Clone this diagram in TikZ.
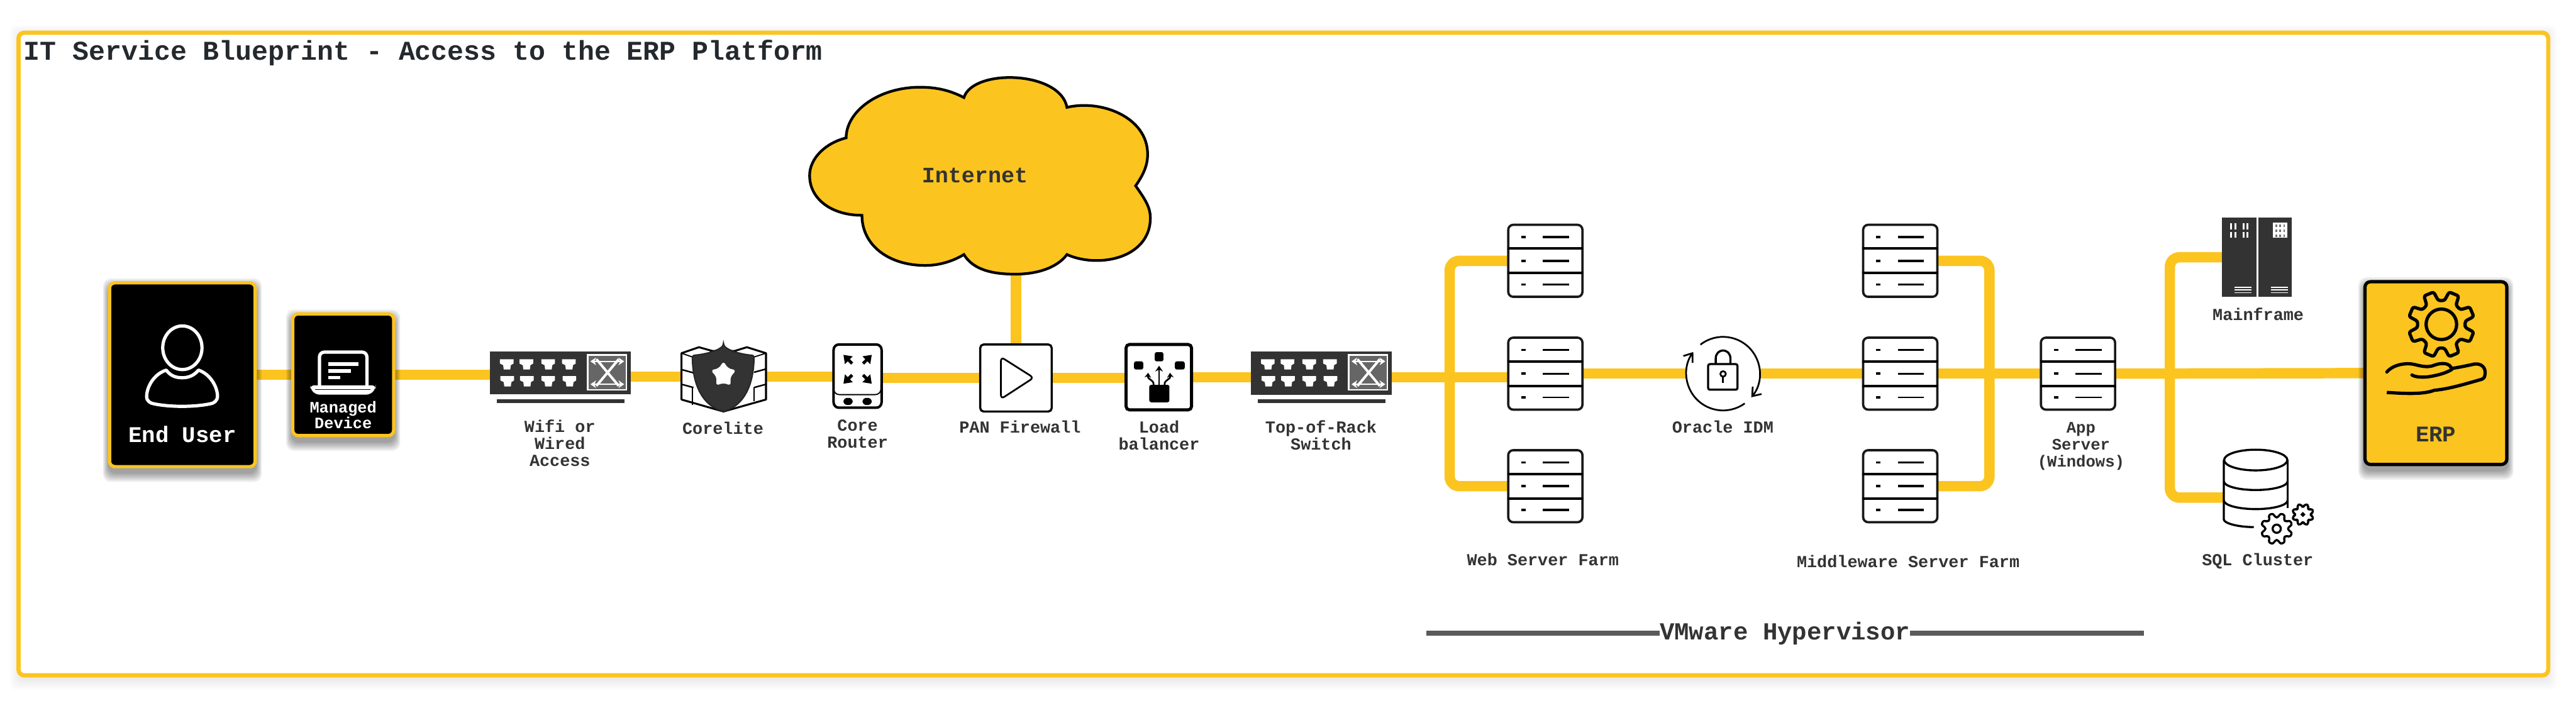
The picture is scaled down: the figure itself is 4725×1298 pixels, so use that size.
\documentclass[tikz,border=0pt]{standalone}
\usepackage{fontspec}
\setmainfont{Liberation Mono}
\usetikzlibrary{backgrounds,arrows.meta}
\definecolor{amber}{HTML}{FCC41F}
\definecolor{ink}{HTML}{333333}
\definecolor{titleink}{HTML}{24292E}
\definecolor{rulegrey}{HTML}{5A5A5A}
\definecolor{crossgrey}{HTML}{666666}
\newcommand\softshadow[4]{%
  \foreach \s in {0,3,...,15}{
    \fill[black,opacity=.07,rounded corners=4pt] ({#1-0.6*\s},{#2+10-\s}) rectangle ({#3+0.6*\s},{#4+10+\s});
  }}
\newcommand\srvdetails[4]{%
  \begin{scope}[shift={(#1.center)},line cap=butt]
    \draw[line width=1.3pt] (-69.5,-22.5) -- (69.5,-22.5);
    \draw[line width=1.3pt] (-69.5,22.5) -- (69.5,22.5);
    \draw[line width=#2] (-4.5,-43.5) -- (43.5,-43.5);
    \draw[line width=#3] (-4.5,0) -- (43.5,0);
    \draw[line width=#4] (-4.5,43.5) -- (43.5,43.5);
    \foreach \yy in {-43.5,0,43.5}{\fill (-44.5,\yy-2.2) rectangle (-36.5,\yy+2.2);}
  \end{scope}}
\newcommand\swport[2]{%
  \fill[white,shift={(#1,#2)}] (0,0) -- (25,0) -- (25,8) -- (20,11) -- (19,19) -- (7,19) -- (6,11) -- (0,8) -- cycle;}
\newcommand\swdetails[1]{%
  \begin{scope}[shift={(#1.north west)}]
    \foreach \xx in {18,54,94,132}{\swport{\xx}{14}}
    \foreach \xx in {19,55,94,133}{\swport{\xx}{45}}
    \draw[white,fill=crossgrey,line width=.8pt] (179,6) rectangle (250,70);
    \draw[white,line width=1.3pt] (195,14) -- (236,63);
    \draw[white,line width=1.3pt] (236,14) -- (195,63);
    \draw[white,line width=.7pt,{Stealth[length=3pt,width=4pt]}-{Stealth[length=3pt,width=4pt]}] (184,18) -- (246,18);
    \draw[white,line width=.7pt,{Stealth[length=3pt,width=4pt]}-{Stealth[length=3pt,width=4pt]}] (184,60) -- (246,60);
    \fill[ink] (12,87) rectangle (246,94);
  \end{scope}}
\newcommand\drawgear[6]{%
  \draw[line width=#6,line join=round,rounded corners=1pt,shift={(#1,#2)}] (7.5:#4)
    \foreach \a in {22.5,67.5,...,337.5}{ -- (\a-15:#4) -- (\a-9:#3) -- (\a+9:#3) -- (\a+15:#4)} -- cycle;
  \draw[line width=#6] (#1,#2) circle[radius=#5];}
\tikzset{
  link/.style={draw=amber,line width=5.4pt,rounded corners=5pt},
  ghost/.style={inner sep=0pt,outer sep=0pt,rectangle},
  lbl/.style={font=\fontsize{8.8}{8.8}\selectfont\bfseries,text=ink,align=center,inner sep=0pt,anchor=base},
  whitelbl/.style={lbl,text=white},
  bigwhite/.style={lbl,text=white,font=\fontsize{11.7}{11.7}\selectfont\bfseries},
  bigink/.style={lbl,font=\fontsize{11.7}{11.7}\selectfont\bfseries},
  blackcard/.style={ghost,draw=amber,fill=black,line width=1.7pt,rounded corners=2.8pt},
  serverbox/.style={ghost,draw=black!90,fill=white,line width=1.2pt,rounded corners=2.6pt,minimum width=1.36cm,minimum height=1.32cm},
  iconbox/.style={ghost,draw=black,fill=white,rounded corners=1.8pt},
  icon/.style={line width=1.7pt,draw=white,line join=round},
}
\begin{document}
\begin{tikzpicture}[x=0.01cm,y=-0.01cm]
\useasboundingbox (0,0) rectangle (4725,1298);

% --- named nodes: cards and icons -------------------------------------
\node[blackcard,minimum width=2.67cm,minimum height=3.37cm] (user) at (334.5,687.5) {};
\node[blackcard,minimum width=1.85cm,minimum height=2.23cm] (device) at (629.5,687.5) {};
\node[ghost,fill=ink,minimum width=2.58cm,minimum height=.78cm] (wifi) at (1028,684) {};
\node[ghost,minimum width=1.55cm,minimum height=1.16cm] (corelite) at (1327.5,691) {};
\node[iconbox,line width=1.3pt,rounded corners=2.8pt,minimum width=.88cm,minimum height=1.16cm] (router) at (1573,690) {};
\node[iconbox,line width=1.1pt,minimum width=1.31cm,minimum height=1.23cm] (fw) at (1863.5,693.5) {};
\node[iconbox,line width=1.6pt,minimum width=1.2cm,minimum height=1.2cm] (lb) at (2125.5,692) {};
\node[ghost,fill=ink,minimum width=2.58cm,minimum height=.79cm] (tor) at (2424,684.5) {};
\node[ghost,minimum width=6.2cm,minimum height=3.63cm] (cloud) at (1788,321.5) {};
\coordinate (webbus) at (2659,692);
\node[serverbox] (web1) at (2834.5,478.5) {};
\node[serverbox] (web2) at (2834.5,685.5) {};
\node[serverbox] (web3) at (2834.5,892) {};
\node[ghost,circle,minimum size=1.35cm] (idm) at (3160.5,685.5) {};
\node[serverbox] (mid1) at (3485.5,478.5) {};
\node[serverbox] (mid2) at (3485.5,685.5) {};
\node[serverbox] (mid3) at (3485.5,892) {};
\coordinate (midbus) at (3649,685.5);
\node[serverbox] (app) at (3811.5,685.5) {};
\coordinate (appbus) at (3980,685.5);
\node[ghost,minimum width=1.28cm,minimum height=1.46cm] (mf) at (4140,472) {};
\node[ghost,minimum width=1.17cm,minimum height=1.76cm] (sql) at (4137.5,913) {};
\node[ghost,draw=black,fill=amber,line width=1.7pt,rounded corners=2.8pt,minimum width=2.6cm,minimum height=3.35cm] (erp) at (4468,684.5) {};

% --- frame, connectors and shadows, behind everything ------------------
\begin{scope}[on background layer]
  \fill[white] (0,0) rectangle (4725,1298);
  \foreach \s in {2,5,...,20}{
    \fill[black,opacity=.012,rounded corners=3pt] (34-\s+4,60+6-\s) rectangle (4674+\s-4,1239+6+\s);
  }
  \draw[amber,fill=white,line width=2.2pt,rounded corners=3pt] (34,60) rectangle (4674,1239);
  \draw[link] (user.east) -- (device.west);
  \draw[link] (device.east) -- (device.east -| wifi.west);
  \draw[link] (wifi.east |- corelite.west) -- (corelite.west);
  \draw[link] (corelite.east) -- (corelite.east -| router.west);
  \draw[link] (router.east |- fw.west) -- (fw.west);
  \draw[link] (fw.east) -- (fw.east -| lb.west);
  \draw[link] (lb.east) -- (lb.east -| tor.west);
  \draw[link] (fw.north) -- (fw.north |- cloud.south);
  \draw[link] (tor.east |- webbus) -- (webbus) -- (webbus -| web2.west);
  \draw[link] (web1.west) -| (webbus) |- (web3.west);
  \draw[link] (web2.east) -- (idm.west);
  \draw[link] (idm.east) -- (mid2.west);
  \draw[link] (mid2.east) -- (app.west);
  \draw[link] (mid1.east) -| (midbus) |- (mid3.east);
  \draw[link] (app.east) -- (erp.west);
  \draw[link] (mf.west) -| (appbus) |- (sql.west);
  \softshadow{198}{516}{471}{859}
  \softshadow{534}{573}{725}{802}
  \softshadow{4335}{514}{4601}{855}
\end{scope}

% --- title --------------------------------------------------------------
\node[anchor=base west,inner sep=0pt,text=titleink,font=\fontsize{14.17}{14.17}\selectfont\bfseries] (title) at (43,110) {IT Service Blueprint - Access to the ERP Platform};

% --- End User -----------------------------------------------------------
\draw[icon] (user.center) ++(0,-49.5) ellipse[x radius=36,y radius=40];
\draw[icon] (305,679) .. controls (312,689) and (322,693) .. (334,693) .. controls (346,693) and (356,689) .. (364,679)
  .. controls (385,686) and (398,708) .. (399,726) .. controls (399,736) and (392,740) .. (385,741)
  .. controls (355,747) and (313,747) .. (283,741) .. controls (276,740) and (268,736) .. (269,726)
  .. controls (270,708) and (283,686) .. (305,679) -- cycle;
\node[bigwhite] (userlbl) at (334.5,811) {End User};

% --- Managed device ------------------------------------------------------
\draw[icon,line width=1.7pt,rounded corners=2.5pt] (586,710) -- (586,646) -- (673,646) -- (673,710);
\fill[white,rounded corners=2pt] (569,707) -- (689,707) -- (689,713) -- (679,724) -- (579,724) -- (569,713) -- cycle;
\draw[black,line width=.4pt] (578,715) -- (680,715);
\fill[white] (602,665) rectangle (657,671);
\fill[white] (602,677) rectangle (644,684);
\fill[white] (602,690) rectangle (624,696);
\node[whitelbl,font=\fontsize{8.3}{8.2}\selectfont\bfseries] (devlbl) at (629.5,786) {Managed\\Device};

% --- Switches ------------------------------------------------------------
\swdetails{wifi}
\swdetails{tor}
\node[lbl] (wifilbl) at (1027,855) {Wifi or\\Wired\\Access};
\node[lbl] (torlbl) at (2423,825) {Top-of-Rack\\Switch};

% --- Corelite -------------------------------------------------------------
\draw[line width=1pt,fill=white,line join=round] (1250,648) -- (1282,637) -- (1307,644) -- (1347,644) -- (1370,637) -- (1405,648) -- (1405,733) -- (1327,755) -- (1250,733) -- cycle;
\draw[line width=.6pt] (1250,648) -- (1270,655) (1405,648) -- (1383,655);
\draw[line width=.8pt] (1250,678) -- (1272,684) (1250,705) -- (1272,711) (1405,677) -- (1383,683) (1405,705) -- (1383,711);
\draw[line width=.7pt] (1270,711) -- (1270,743) (1383,711) -- (1383,736);
\draw[fill=ink,draw=black!85,line width=.7pt,rounded corners=1pt] (1327,633) .. controls (1318,643) and (1295,650) .. (1270,652) .. controls (1270,700) and (1285,742) .. (1327,755) .. controls (1368,742) and (1383,700) .. (1383,652) .. controls (1358,650) and (1336,643) .. (1327,633) -- cycle;
\fill[white,rounded corners=2pt] (1327,662) -- (1335,676) -- (1351,679) -- (1339,692) -- (1341,708) -- (1327,702) -- (1313,708) -- (1315,692) -- (1303,679) -- (1319,676) -- cycle;
\node[lbl] (corelbl) at (1326,796) {Corelite};

% --- Core router -----------------------------------------------------------
\draw[line width=.6pt,rounded corners=3pt] (1529,705) -- (1529,724) -- (1616,724) -- (1616,705);
\fill[rounded corners=2pt] (1547,730) rectangle (1564,743);
\fill[rounded corners=2pt] (1582,730) rectangle (1599,743);
\foreach \xa/\ya/\xb/\yb in {1563/667/1547/651,1583/667/1599/651,1563/688/1547/704,1583/688/1599/704}{
  \draw[line width=1.6pt,-{Stealth[length=4pt,width=5.5pt,inset=0pt]}] (\xa,\ya) -- (\xb,\yb);
}
\node[lbl] (routerlbl) at (1573,822) {Core\\Router};

% --- Firewall ---------------------------------------------------------------
\draw[line width=.9pt,rounded corners=2pt,line join=round] (1836,655) -- (1896,693) -- (1836,732) -- cycle;
\node[lbl] (fwlbl) at (1871,794) {PAN Firewall};

% --- Load balancer -----------------------------------------------------------
\fill[rounded corners=1pt] (2118,646) rectangle (2134,663);
\fill[rounded corners=1pt] (2080,663) rectangle (2097,678);
\fill[rounded corners=1pt] (2155,663) rectangle (2173,678);
\fill[rounded corners=1pt] (2108,706) rectangle (2145,738);
\draw[line width=.9pt,-{Stealth[length=3pt,width=4pt]}] (2126,706) -- (2126,671);
\draw[line width=.9pt,-{Stealth[length=2.5pt,width=3.5pt]}] (2116,706) .. controls (2116,695) and (2105,698) .. (2106,684);
\draw[line width=.9pt,-{Stealth[length=2.5pt,width=3.5pt]}] (2136,706) .. controls (2136,695) and (2147,698) .. (2146,684);
\node[lbl] (lblb) at (2126,825) {Load\\balancer};

% --- Cloud ---------------------------------------------------------------------
\draw[line width=1.4pt,fill=amber,line join=miter]
  (1768,179) .. controls (1785,125) and (1945,130) .. (1957,197)
  .. controls (2020,182) and (2105,215) .. (2105,283)
  .. controls (2105,305) and (2096,322) .. (2083,341)
  .. controls (2100,365) and (2110,380) .. (2110,400)
  .. controls (2110,450) and (2065,478) .. (2011,478)
  .. controls (1990,478) and (1970,473) .. (1957,467)
  .. controls (1940,490) and (1905,503) .. (1862,503)
  .. controls (1820,503) and (1785,495) .. (1768,467)
  .. controls (1750,478) and (1725,487) .. (1697,487)
  .. controls (1630,487) and (1581,450) .. (1581,395)
  .. controls (1525,395) and (1485,365) .. (1485,322)
  .. controls (1485,290) and (1515,262) .. (1552,253)
  .. controls (1552,205) and (1610,160) .. (1688,160)
  .. controls (1720,160) and (1745,167) .. (1768,179) -- cycle;
\node[font=\fontsize{11.5}{11.5}\selectfont\bfseries,text=ink,inner sep=0pt,anchor=base] (cloudlbl) at (1788,335) {Internet};

% --- Servers ---------------------------------------------------------------------
\srvdetails{web1}{1.3pt}{1.3pt}{1pt}
\srvdetails{web2}{.9pt}{.9pt}{.9pt}
\srvdetails{web3}{1.2pt}{1.2pt}{1.2pt}
\srvdetails{mid1}{1.3pt}{1.3pt}{1pt}
\srvdetails{mid2}{.9pt}{.9pt}{.9pt}
\srvdetails{mid3}{1.2pt}{1.2pt}{1.2pt}
\srvdetails{app}{.9pt}{.9pt}{.9pt}
\node[lbl] (weblbl) at (2830,1038) {Web Server Farm};
\node[lbl] (midlbl) at (3500,1041) {Middleware Server Farm};
\node[lbl,font=\fontsize{8.4}{8.8}\selectfont\bfseries] (applbl) at (3817,856) {App\\Server\\(Windows)};

% --- Oracle IDM ------------------------------------------------------------------
\draw[line width=.9pt,-{Straight Barb[length=4pt,width=6pt]}] ([shift={(-128:67.5)}]idm.center) arc[start angle=-128,end angle=40,radius=67.5];
\draw[line width=.9pt,-{Straight Barb[length=4pt,width=6pt]}] ([shift={(54:67.5)}]idm.center) arc[start angle=54,end angle=216,radius=67.5];
\draw[line width=1.1pt,fill=white,rounded corners=1pt] (3133,668) rectangle (3187,715);
\draw[line width=1.1pt] (3147,668) -- (3147,658) .. controls (3147,638) and (3174,638) .. (3174,658) -- (3174,668);
\draw[line width=.9pt] (3160.5,686) circle[radius=5];
\draw[line width=1pt] (3160.5,691) -- (3160.5,702);
\node[lbl] (idmlbl) at (3160,794) {Oracle IDM};

% --- Mainframe -------------------------------------------------------------------
\fill[ink] (4076,399) rectangle (4139,545);
\fill[ink] (4142,399) rectangle (4204,545);
\foreach \xx in {4090,4098,4113,4121}{
  \fill[white] (\xx,409) rectangle (\xx+3.5,421);
  \fill[white] (\xx,426) rectangle (\xx+3.5,436);
}
\fill[white] (4169,408) rectangle (4196,436);
\foreach \xx in {4174,4181,4188}{\foreach \yy in {412,421,430}{\fill[black!55] (\xx,\yy) rectangle (\xx+2.5,\yy+5);}}
\foreach \yy in {527,532,537}{
  \fill[white] (4099,\yy-1) rectangle (4130,\yy+1);
  \fill[white] (4166,\yy-1) rectangle (4197,\yy+1);
}
\node[lbl] (mflbl) at (4142,588) {Mainframe};

% --- SQL cluster -----------------------------------------------------------------
\draw[line width=1.1pt,fill=white] (4137.5,844) ellipse[x radius=58,y radius=19];
\draw[line width=1.1pt] (4079,844) -- (4079,953) .. controls (4079,960) and (4105,967) .. (4134,967);
\draw[line width=1.1pt] (4196,844) -- (4196,932);
\draw[line width=1.1pt] (4079,883) arc[start angle=180,end angle=0,x radius=58.5,y radius=16];
\draw[line width=1.1pt] (4079,918) arc[start angle=180,end angle=0,x radius=58.5,y radius=16];
\drawgear{4176}{970}{29}{21}{7.5}{1.1pt}
\drawgear{4224}{944}{20}{14.5}{2}{1.1pt}
\node[lbl] (sqllbl) at (4141,1038) {SQL Cluster};

% --- ERP ---------------------------------------------------------------------------
\drawgear{4478}{595}{61}{44}{28}{1.7pt}
\draw[line width=1.7pt,line cap=round,line join=round]
  (4378,682.5) .. controls (4390,668) and (4415,665) .. (4430,669) .. controls (4445,673) and (4455,674) .. (4465,670)
  .. controls (4478,665) and (4495,665) .. (4497,678) .. controls (4485,685) and (4472,688) .. (4459,690.5)
  .. controls (4445,693) and (4430,692) .. (4424,688);
\draw[line width=1.7pt,line join=round]
  (4497,676) .. controls (4510,674) and (4525,671) .. (4538,668) .. controls (4552,666) and (4560,675) .. (4558,687)
  .. controls (4558,694) and (4553,696) .. (4548,697) .. controls (4520,705) and (4490,714) .. (4465,716)
  .. controls (4445,724) and (4410,722) .. (4378,720);
\node[bigink] (erplbl) at (4468,810) {ERP};

% --- Hypervisor ----------------------------------------------------------------------
\node[font=\fontsize{12.8}{12.8}\selectfont\bfseries,text=ink,inner sep=0pt,outer sep=0pt,anchor=base] (vm) at (3274,1174) {VMware Hypervisor};
\coordinate (vmleft) at (2616,1161.5);
\coordinate (vmright) at (3933,1161.5);
\draw[rulegrey,line width=2.6pt] (vmleft) -- (vmleft -| vm.west);
\draw[rulegrey,line width=2.6pt] (vm.east |- vmright) -- (vmright);
\end{tikzpicture}
\end{document}
